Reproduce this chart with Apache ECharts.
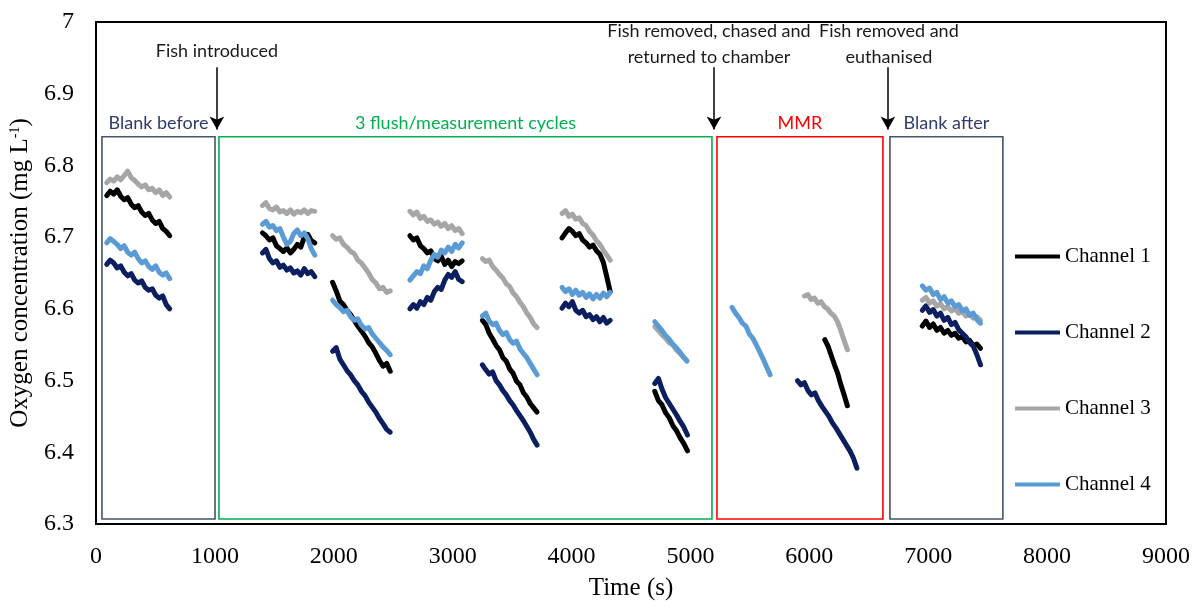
<!DOCTYPE html>
<html>
<head>
<meta charset="utf-8">
<script src="https://cdn.jsdelivr.net/npm/echarts@6/dist/echarts.min.js"></script>
<style>
  html, body { margin: 0; padding: 0; background: #fff; }
  #chart { width: 1199px; height: 608px; }
</style>
</head>
<body>
<div id="chart"></div>
<script>
// Oxygen traces from four respirometry chambers, recorded in separate measurement windows.
// Each channel: time spans [start, end] (s) and the O2 readings (mg/L) logged across each span.

const channelNames = ['Channel 1', 'Channel 2', 'Channel 3', 'Channel 4'];
const channelColors = ['#000000', '#0b1f60', '#a6a6a6', '#5b9bd5'];

const xTicks = { min: 0, max: 9000, step: 1000 };
const yTicks = { min: 6.3, max: 7, step: 0.1 };

// Channel 1
const ch1Spans = [[90, 620], [1400, 1840], [1990, 2475], [2640, 3080], [3250, 3710], [3920, 4325], [4700, 4975], [6130, 6320], [6950, 7440]];
const ch1Values = [
  [6.758, 6.764, 6.760, 6.766, 6.757, 6.752, 6.755, 6.746, 6.741, 6.744, 6.735, 6.730, 6.733, 6.724, 6.719, 6.722, 6.712, 6.708, 6.702],
  [6.706, 6.702, 6.696, 6.699, 6.688, 6.684, 6.680, 6.685, 6.678, 6.683, 6.690, 6.686, 6.700, 6.704, 6.695, 6.692],
  [6.637, 6.625, 6.611, 6.606, 6.598, 6.592, 6.584, 6.576, 6.569, 6.562, 6.553, 6.547, 6.538, 6.528, 6.520, 6.524, 6.513],
  [6.702, 6.696, 6.699, 6.688, 6.684, 6.678, 6.681, 6.670, 6.667, 6.673, 6.662, 6.668, 6.659, 6.666, 6.663, 6.667],
  [6.584, 6.578, 6.566, 6.558, 6.549, 6.543, 6.532, 6.527, 6.516, 6.510, 6.499, 6.494, 6.483, 6.477, 6.468, 6.462, 6.456],
  [6.699, 6.706, 6.712, 6.708, 6.702, 6.705, 6.696, 6.692, 6.686, 6.689, 6.681, 6.676, 6.665, 6.645, 6.624],
  [6.485, 6.472, 6.466, 6.455, 6.448, 6.437, 6.430, 6.420, 6.412, 6.402],
  [6.557, 6.548, 6.535, 6.522, 6.510, 6.494, 6.480, 6.465],
  [6.576, 6.583, 6.574, 6.579, 6.570, 6.574, 6.566, 6.570, 6.563, 6.566, 6.559, 6.561, 6.554, 6.556, 6.549, 6.551, 6.545]
];

// Channel 2
const ch2Spans = [[90, 620], [1400, 1840], [1990, 2475], [2640, 3080], [3250, 3710], [3920, 4325], [4700, 4975], [5900, 6400], [6950, 7440]];
const ch2Values = [
  [6.662, 6.668, 6.664, 6.657, 6.660, 6.651, 6.646, 6.649, 6.640, 6.636, 6.639, 6.630, 6.626, 6.628, 6.619, 6.615, 6.618, 6.606, 6.600],
  [6.678, 6.683, 6.670, 6.664, 6.667, 6.658, 6.661, 6.654, 6.657, 6.650, 6.653, 6.647, 6.656, 6.649, 6.652, 6.645],
  [6.541, 6.546, 6.530, 6.522, 6.514, 6.508, 6.500, 6.494, 6.485, 6.479, 6.470, 6.463, 6.456, 6.447, 6.440, 6.432, 6.428],
  [6.600, 6.606, 6.601, 6.610, 6.606, 6.616, 6.612, 6.624, 6.630, 6.627, 6.640, 6.648, 6.644, 6.652, 6.641, 6.638],
  [6.522, 6.515, 6.509, 6.512, 6.500, 6.494, 6.486, 6.480, 6.472, 6.466, 6.458, 6.451, 6.444, 6.436, 6.428, 6.418, 6.410],
  [6.601, 6.608, 6.603, 6.610, 6.598, 6.594, 6.598, 6.589, 6.592, 6.585, 6.589, 6.582, 6.588, 6.580, 6.584],
  [6.496, 6.503, 6.488, 6.476, 6.468, 6.460, 6.452, 6.443, 6.435, 6.424],
  [6.500, 6.494, 6.497, 6.486, 6.480, 6.483, 6.472, 6.464, 6.457, 6.450, 6.441, 6.434, 6.426, 6.418, 6.410, 6.402, 6.392, 6.378],
  [6.598, 6.604, 6.595, 6.599, 6.590, 6.594, 6.584, 6.588, 6.578, 6.581, 6.571, 6.566, 6.561, 6.553, 6.548, 6.536, 6.522]
];

// Channel 3
const ch3Spans = [[90, 620], [1400, 1840], [1990, 2475], [2640, 3080], [3250, 3710], [3920, 4325], [4700, 4970], [5960, 6320], [6950, 7440]];
const ch3Values = [
  [6.776, 6.781, 6.778, 6.784, 6.780, 6.786, 6.792, 6.783, 6.779, 6.774, 6.770, 6.773, 6.766, 6.768, 6.762, 6.766, 6.758, 6.762, 6.756],
  [6.744, 6.748, 6.740, 6.738, 6.742, 6.735, 6.737, 6.733, 6.738, 6.732, 6.736, 6.734, 6.738, 6.733, 6.737, 6.736],
  [6.702, 6.697, 6.699, 6.690, 6.686, 6.680, 6.677, 6.668, 6.664, 6.657, 6.650, 6.641, 6.636, 6.628, 6.630, 6.623, 6.625],
  [6.736, 6.731, 6.735, 6.726, 6.729, 6.722, 6.724, 6.718, 6.721, 6.715, 6.719, 6.712, 6.716, 6.709, 6.712, 6.705],
  [6.670, 6.666, 6.668, 6.659, 6.654, 6.648, 6.643, 6.635, 6.631, 6.622, 6.617, 6.609, 6.603, 6.594, 6.588, 6.579, 6.574],
  [6.733, 6.737, 6.729, 6.732, 6.725, 6.727, 6.719, 6.716, 6.708, 6.703, 6.695, 6.690, 6.682, 6.675, 6.668],
  [6.575, 6.570, 6.564, 6.559, 6.553, 6.550, 6.543, 6.538, 6.533, 6.528],
  [6.618, 6.620, 6.613, 6.615, 6.608, 6.610, 6.603, 6.600, 6.594, 6.590, 6.582, 6.570, 6.556, 6.543],
  [6.612, 6.616, 6.608, 6.611, 6.604, 6.607, 6.600, 6.603, 6.597, 6.600, 6.594, 6.596, 6.590, 6.593, 6.587, 6.589, 6.584]
];

// Channel 4
const ch4Spans = [[90, 620], [1400, 1840], [1990, 2475], [2640, 3080], [3250, 3710], [3920, 4325], [4700, 4970], [5350, 5670], [6950, 7440]];
const ch4Values = [
  [6.692, 6.698, 6.694, 6.690, 6.684, 6.688, 6.679, 6.675, 6.679, 6.670, 6.664, 6.667, 6.659, 6.655, 6.660, 6.651, 6.647, 6.650, 6.642],
  [6.718, 6.722, 6.714, 6.716, 6.709, 6.712, 6.700, 6.690, 6.694, 6.705, 6.710, 6.702, 6.706, 6.698, 6.684, 6.675],
  [6.612, 6.606, 6.602, 6.596, 6.598, 6.589, 6.584, 6.586, 6.577, 6.572, 6.574, 6.565, 6.559, 6.553, 6.547, 6.542, 6.536],
  [6.640, 6.646, 6.652, 6.649, 6.660, 6.656, 6.668, 6.676, 6.672, 6.682, 6.678, 6.686, 6.680, 6.690, 6.685, 6.692],
  [6.590, 6.594, 6.583, 6.578, 6.580, 6.570, 6.564, 6.567, 6.557, 6.552, 6.555, 6.544, 6.538, 6.532, 6.524, 6.516, 6.508],
  [6.630, 6.624, 6.628, 6.620, 6.626, 6.619, 6.623, 6.616, 6.621, 6.614, 6.620, 6.615, 6.622, 6.617, 6.623],
  [6.582, 6.576, 6.570, 6.563, 6.558, 6.551, 6.546, 6.540, 6.533, 6.527],
  [6.602, 6.594, 6.588, 6.580, 6.576, 6.565, 6.559, 6.550, 6.540, 6.530, 6.519, 6.508],
  [6.632, 6.626, 6.629, 6.620, 6.623, 6.613, 6.617, 6.608, 6.611, 6.603, 6.606, 6.597, 6.600, 6.591, 6.594, 6.585, 6.580]
];

// Experiment phases: [label, start s, end s, border colour, label colour]
const phaseBoxes = [
  ['Blank before', 50, 1001, '#44546a', '#2f3b6e'],
  ['3 flush/measurement cycles', 1034, 5181, '#00b050', '#00b050'],
  ['MMR', 5223, 6619, '#ff0000', '#ff0000'],
  ['Blank after', 6678, 7628, '#44546a', '#2f3b6e']
];
const phaseBottom = 6.307;
const phaseTop = 6.840;

// Events: [text, time s, horizontal text shift px]
const events = [
  ['Fish introduced', 1017, 0],
  ['Fish removed, chased and\nreturned to chamber', 5198, -5],
  ['Fish removed and\neuthanised', 6661, 1]
];
const eventArrowFrom = 6.937;
const eventArrowTo = 6.850;

// Turn logged spans into [t, value] pairs, with a gap between spans.
function buildSeriesData(spans, values) {
  const out = [];
  spans.forEach((span, i) => {
    const vals = values[i];
    const n = vals.length;
    for (let k = 0; k < n; k++) {
      const t = span[0] + (span[1] - span[0]) * k / (n - 1);
      out.push([t, vals[k]]);
    }
    out.push([span[1] + 1, '-']);
  });
  return out;
}

const allSpans = [ch1Spans, ch2Spans, ch3Spans, ch4Spans];
const allValues = [ch1Values, ch2Values, ch3Values, ch4Values];

const serif = 'Liberation Serif, Times New Roman, serif';
const sans = 'Lato, Open Sans, sans-serif';

const series = channelNames.map((name, i) => ({
  name: name,
  type: 'line',
  data: buildSeriesData(allSpans[i], allValues[i]),
  showSymbol: false,
  connectNulls: false,
  lineStyle: { color: channelColors[i], width: 5, join: 'round', cap: 'round' },
  itemStyle: { color: channelColors[i] },
  z: 3 + i
}));

// Phase boxes and event arrows drawn in data coordinates
series.push({
  name: 'phases',
  type: 'line',
  data: [],
  silent: true,
  z: 1,
  markArea: {
    silent: true,
    data: phaseBoxes.map(b => [
      {
        name: b[0],
        xAxis: b[1], yAxis: phaseBottom,
        itemStyle: { color: 'rgba(0,0,0,0)', borderColor: b[3], borderWidth: 1.6 },
        label: { show: true, position: 'top', distance: 4, color: b[4], fontFamily: sans, fontSize: 18 }
      },
      { xAxis: b[2], yAxis: phaseTop }
    ])
  },
  markLine: {
    silent: true,
    symbol: ['none', 'arrow'],
    symbolSize: [11, 13],
    precision: 4,
    lineStyle: { color: '#000', width: 1.5, type: 'solid' },
    data: events.map(e => {
      const twoLines = e[0].indexOf('\n') >= 0;
      return [
        {
          coord: [e[1], eventArrowFrom],
          label: {
            show: true, position: 'start', distance: twoLines ? -3 : 3, formatter: e[0],
            offset: [e[2], 0],
            color: '#1a1a1a', fontFamily: sans, fontSize: 18, lineHeight: 26, align: 'center'
          }
        },
        { coord: [e[1], eventArrowTo] }
      ];
    })
  }
});

const chart = echarts.init(document.getElementById('chart'), null, { renderer: 'canvas' });
chart.setOption({
  animation: false,
  backgroundColor: '#ffffff',
  grid: {
    left: 96, right: 33, top: 22, bottom: 84,
    show: true, borderColor: '#000', borderWidth: 2, backgroundColor: 'rgba(0,0,0,0)'
  },
  xAxis: {
    type: 'value',
    min: xTicks.min, max: xTicks.max, interval: xTicks.step,
    name: 'Time (s)', nameLocation: 'middle', nameGap: 52,
    nameTextStyle: { fontFamily: serif, fontSize: 25, color: '#000' },
    axisLine: { show: false }, axisTick: { show: false }, splitLine: { show: false },
    axisLabel: { margin: 21, fontFamily: serif, fontSize: 24, color: '#000', formatter: v => String(v) }
  },
  yAxis: {
    type: 'value',
    min: yTicks.min, max: yTicks.max, interval: yTicks.step,
    name: 'Oxygen concentration (mg L{sup|-1})', nameLocation: 'middle', nameGap: 58,
    nameTextStyle: {
      fontFamily: serif, fontSize: 25, color: '#000',
      rich: { sup: { fontFamily: serif, fontSize: 14, color: '#000', padding: [0, 0, 11, 0] } }
    },
    axisLine: { show: false }, axisTick: { show: false }, splitLine: { show: false },
    axisLabel: { margin: 22, fontFamily: serif, fontSize: 24, color: '#000' }
  },
  legend: {
    data: channelNames,
    orient: 'vertical',
    left: 1015, top: 246,
    padding: 0,
    icon: 'rect',
    itemWidth: 45, itemHeight: 4,
    itemGap: 55,
    textStyle: { fontFamily: serif, fontSize: 21, color: '#000' }
  },
  series: series
});
</script>
</body>
</html>
